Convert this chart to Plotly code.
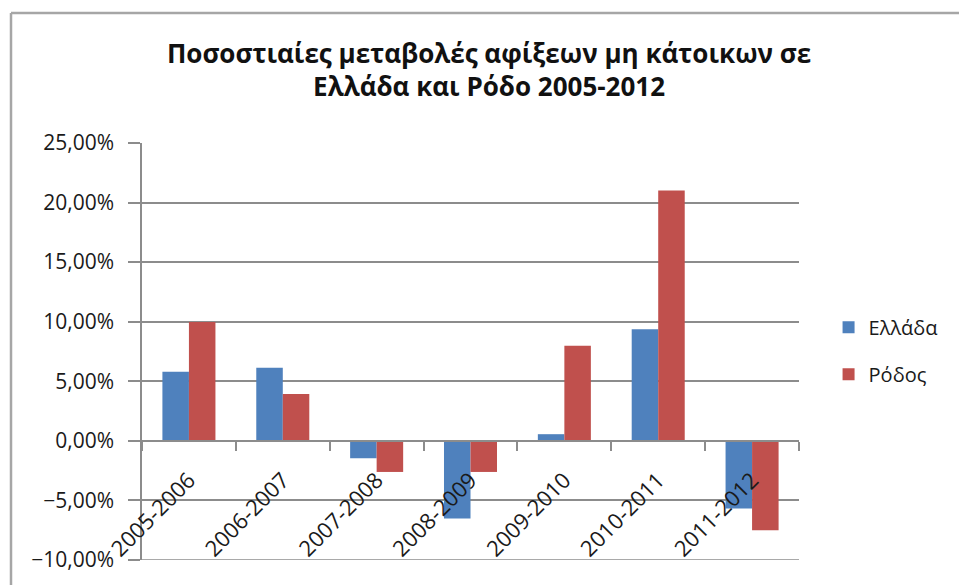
import plotly.graph_objects as go

# Annual change in non-resident arrivals (fractions)
periods = ["2005-2006", "2006-2007", "2007-2008", "2008-2009",
           "2009-2010", "2010-2011", "2011-2012"]
greece = [0.0579, 0.0613, -0.0146, -0.0652, 0.0056, 0.0936, -0.0568]
rhodes = [0.0997, 0.0394, -0.0261, -0.0261, 0.0798, 0.2102, -0.0750]

BLUE = "#4F81BD"
RED = "#C0504D"
GRID = "#8C8C8C"
FONT = "'Open Sans', 'Noto Sans', sans-serif"
TXT = "#1a1a1a"

fig = go.Figure()
fig.add_trace(go.Bar(x=periods, y=greece, name="Ελλάδα", marker_color=BLUE,
                     marker_line_width=0, legendgroup="g1"))
fig.add_trace(go.Bar(x=periods, y=rhodes, name="Ρόδος", marker_color=RED,
                     marker_line_width=0, legendgroup="g2"))

W, H = 959, 585
L, R, T, B = 142, 160, 143, 25
PW, PH = W - L - R, H - T - B

fig.update_layout(
    width=W, height=H,
    margin=dict(l=L, r=R, t=T, b=B, pad=0),
    paper_bgcolor="white", plot_bgcolor="white",
    separators=",.",
    barmode="group", bargap=0.435, bargroupgap=0,
    font=dict(family=FONT, size=20, color=TXT),
    title=dict(
        text="<b>Ποσοστιαίες μεταβολές αφίξεων μη κάτοικων σε<br>Ελλάδα και Ρόδο 2005-2012</b>",
        x=0.51, xanchor="center", xref="container",
        y=0.893, yanchor="top", yref="container",
        font=dict(family=FONT, size=26, color="#111111"),
    ),
    legend=dict(
        x=1.045, xanchor="left", y=0.605, yanchor="top",
        font=dict(family=FONT, size=20, color=TXT),
        traceorder="grouped", tracegroupgap=18,
        itemwidth=30, bgcolor="rgba(0,0,0,0)",
    ),
    yaxis=dict(
        range=[-0.10, 0.25], dtick=0.05, tick0=0,
        tickformat=".2%",
        showgrid=True, gridcolor=GRID, gridwidth=1.5,
        zeroline=False,
        showline=True, linecolor=GRID, linewidth=1.5,
        ticks="outside", ticklen=12, tickcolor=GRID, tickwidth=1.5,
        ticklabelstandoff=10,
        tickfont=dict(family=FONT, size=21, color=TXT),
    ),
    xaxis=dict(
        type="category",
        anchor="free", position=10 / 35,
        showline=True, linecolor=GRID, linewidth=1.5,
        ticks="outside", tickson="boundaries", ticklen=9,
        tickcolor=GRID, tickwidth=1.5,
        tickangle=-45, showgrid=False,
        ticklabelstandoff=17,
        tickfont=dict(family=FONT, size=22, color=TXT),
    ),
)

# Bottom gridline at the lower end of the value range
fig.add_shape(type="line", xref="paper", yref="y",
              x0=0, x1=1, y0=-0.10, y1=-0.10,
              line=dict(color=GRID, width=1.5), layer="below")

# Chart frame: top and left edges
frame = "#A6A6A6"
fx = (11 - L) / PW
fy = (H - B - 13) / PH
fig.add_shape(type="line", xref="paper", yref="paper",
              x0=fx, x1=(W - L) / PW, y0=fy, y1=fy,
              line=dict(color=frame, width=2.5))
fig.add_shape(type="line", xref="paper", yref="paper",
              x0=fx, x1=fx, y0=-B / PH, y1=fy,
              line=dict(color=frame, width=2.5))

fig.write_html("out.html")
